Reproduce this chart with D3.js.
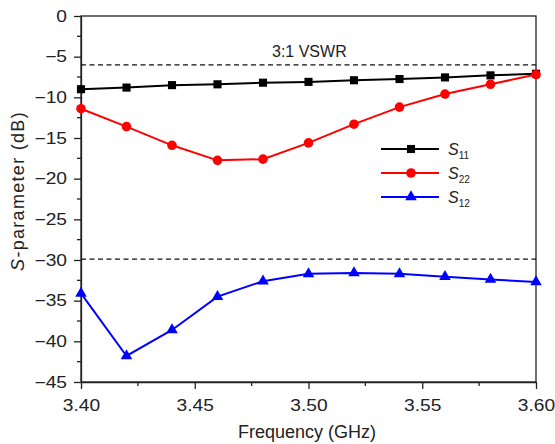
<!DOCTYPE html>
<html>
<head>
<meta charset="utf-8">
<script src="https://cdn.jsdelivr.net/npm/d3@7"></script>
<style>
  body { margin: 0; background: #fff; }
  text { font-family: "Liberation Sans", Arial, sans-serif; }
</style>
</head>
<body>
<div id="chart"></div>
<script>
// data
const freqs = [3.40, 3.42, 3.44, 3.46, 3.48, 3.50, 3.52, 3.54, 3.56, 3.58, 3.60];
const s11 = [-9.0, -8.8, -8.5, -8.4, -8.2, -8.1, -7.9, -7.75, -7.55, -7.3, -7.1];
const s22 = [-11.4, -13.6, -15.9, -17.75, -17.6, -15.6, -13.3, -11.2, -9.6, -8.4, -7.2];
const s12 = [-34.1, -41.8, -38.6, -34.5, -32.6, -31.7, -31.6, -31.7, -32.05, -32.4, -32.7];
const xTicks = [3.40, 3.45, 3.50, 3.55, 3.60];
const yTicks = [0, -5, -10, -15, -20, -25, -30, -35, -40, -45];
const refLines = [-6, -29.9];

const width = 555, height = 444;
const margin = { top: 16, right: 19, bottom: 62, left: 81 };
const w = width - margin.left - margin.right;
const h = height - margin.top - margin.bottom;
const stretch = 1.2; // tick labels in the picture are drawn wide

const svg = d3.select('#chart').append('svg')
    .attr('width', width)
    .attr('height', height);
const g = svg.append('g').attr('transform', `translate(${margin.left},${margin.top})`);

const x = d3.scaleLinear().domain([3.40, 3.60]).range([0, w]);
const y = d3.scaleLinear().domain([-45, 0]).range([h, 0]);

// frame
g.append('rect').attr('width', w).attr('height', h)
    .attr('fill', 'none').attr('stroke', '#222').attr('stroke-width', 1.3);

// minor ticks
const xMinor = d3.range(3.425, 3.6, 0.05);
const yMinor = d3.range(-2.5, -45, -5);
g.selectAll('.xm').data(xMinor).enter().append('line')
    .attr('x1', d => x(d)).attr('x2', d => x(d))
    .attr('y1', h).attr('y2', h + 4)
    .attr('stroke', '#222').attr('stroke-width', 1.3);
g.selectAll('.ym').data(yMinor).enter().append('line')
    .attr('x1', 0).attr('x2', -4)
    .attr('y1', d => y(d)).attr('y2', d => y(d))
    .attr('stroke', '#222').attr('stroke-width', 1.3);

// axes
const fmtMinus = d => d3.format('.0f')(d).replace('-', '\u2212');
const xAxis = g.append('g').attr('transform', `translate(0,${h})`)
    .call(d3.axisBottom(x).tickValues(xTicks).tickFormat(d3.format('.2f')).tickSize(7).tickSizeOuter(0));
const yAxis = g.append('g')
    .call(d3.axisLeft(y).tickValues(yTicks).tickFormat(fmtMinus).tickSize(7).tickSizeOuter(0));
[xAxis, yAxis].forEach(a => {
    a.select('.domain').attr('stroke', '#222').attr('stroke-width', 1.3);
    a.selectAll('.tick line').attr('stroke', '#222').attr('stroke-width', 1.3);
    a.selectAll('.tick text').attr('font-size', 16).attr('fill', '#222')
        .style('font-family', '"Liberation Sans", Arial, sans-serif')
        .attr('transform', `scale(${stretch},1)`);
});
xAxis.selectAll('.tick text').attr('y', 29).attr('dy', 0);
yAxis.selectAll('.tick text').attr('x', -14 / stretch);

// axis labels
svg.append('text')
    .attr('x', 307).attr('y', 438)
    .attr('text-anchor', 'middle').attr('font-size', 18).attr('fill', '#222')
    .text('Frequency (GHz)');
const yl = svg.append('text')
    .attr('transform', `translate(24,191) rotate(-90)`)
    .attr('text-anchor', 'middle').attr('font-size', 18).attr('fill', '#222')
    .attr('letter-spacing', 1.3);
yl.append('tspan').attr('font-style', 'italic').text('S');
yl.append('tspan').text('-parameter (dB)');

// dashed reference lines
g.selectAll('.ref').data(refLines).enter().append('line')
    .attr('x1', 0).attr('x2', w)
    .attr('y1', d => y(d)).attr('y2', d => y(d))
    .attr('stroke', '#111').attr('stroke-width', 1.3)
    .attr('stroke-dasharray', '5,3.5');
svg.append('text')
    .attr('x', 272).attr('y', 56.5)
    .attr('font-size', 16).attr('fill', '#222')
    .text('3:1 VSWR');

const series = [
    { name: '11', values: s11, color: '#000000', shape: d3.symbolSquare, size: 66 },
    { name: '22', values: s22, color: '#ff0000', shape: d3.symbolCircle, size: 72 },
    { name: '12', values: s12, color: '#0000ff', shape: d3.symbolTriangle, size: 58 }
];

const line = d3.line().x((d, i) => x(freqs[i])).y(d => y(d));

series.forEach(s => {
    g.append('path').datum(s.values)
        .attr('fill', 'none').attr('stroke', s.color).attr('stroke-width', 2)
        .attr('d', line);
    g.selectAll(null).data(s.values).enter().append('path')
        .attr('d', d3.symbol().type(s.shape).size(s.size))
        .attr('transform', (d, i) => `translate(${x(freqs[i])},${y(d)})`)
        .attr('fill', s.color);
});

// legend
const legend = svg.append('g').attr('transform', 'translate(381,149)');
series.forEach((s, i) => {
    const row = legend.append('g').attr('transform', `translate(0,${i * 24})`);
    row.append('line').attr('x1', 0).attr('x2', 58)
        .attr('stroke', s.color).attr('stroke-width', 2);
    row.append('path')
        .attr('d', d3.symbol().type(s.shape).size(s.size))
        .attr('transform', 'translate(30,0)')
        .attr('fill', s.color);
    const t = row.append('text').attr('x', 67).attr('y', 6)
        .attr('font-size', 16).attr('fill', '#222');
    t.append('tspan').attr('font-style', 'italic').text('S');
    t.append('tspan').attr('font-size', 10).attr('dy', 4).text(s.name);
});
</script>
</body>
</html>
